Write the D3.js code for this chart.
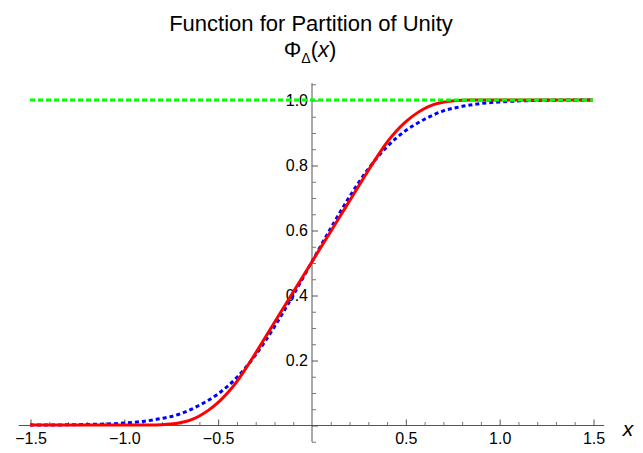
<!DOCTYPE html>
<html><head><meta charset="utf-8">
<script src="https://cdn.jsdelivr.net/npm/d3@7"></script>
<style>body{margin:0;background:#fff}svg{display:block}</style>
</head><body><svg id="c" width="643" height="453"></svg>
<script>
// ---- data ----
const redX = [-1.5, -0.9, -0.85, -0.8, -0.75, -0.7, -0.65, -0.6, -0.55, -0.5, -0.45, -0.4, -0.35, -0.3, -0.25, -0.2, -0.15, -0.1, -0.05, 0,
  0.05, 0.1, 0.15, 0.2, 0.25, 0.3, 0.35, 0.4, 0.45, 0.5, 0.55, 0.6, 0.65, 0.7, 0.75, 0.8, 0.85, 0.9, 1.5];
const redY = [0, 0, 0, 0.001, 0.003, 0.007, 0.014, 0.027, 0.045, 0.068, 0.097, 0.132, 0.174, 0.219, 0.266, 0.313, 0.36, 0.407, 0.453, 0.5,
  0.547, 0.593, 0.64, 0.687, 0.734, 0.781, 0.826, 0.868, 0.903, 0.932, 0.955, 0.973, 0.986, 0.993, 0.997, 0.999, 1, 1, 1];
const blueX = [-1.5, -1.4, -1.3, -1.2, -1.1, -1.0, -0.9, -0.8, -0.7, -0.6, -0.5, -0.4, -0.3, -0.2, -0.1, 0,
  0.1, 0.2, 0.3, 0.4, 0.5, 0.6, 0.7, 0.8, 0.9, 1.0, 1.1, 1.2, 1.3, 1.4, 1.5];
const blueY = [0, 0.0002, 0.0005, 0.0015, 0.003, 0.006, 0.011, 0.02, 0.034, 0.06, 0.095, 0.145, 0.214, 0.3, 0.397, 0.5,
  0.603, 0.7, 0.786, 0.855, 0.905, 0.94, 0.966, 0.98, 0.989, 0.994, 0.997, 0.9985, 0.9995, 0.9998, 1];
const unityX = [-1.5, 1.5];
const unityY = [1, 1];
const xMajorTicks = [-1.5, -1.0, -0.5, 0.5, 1.0, 1.5];
const yMajorTicks = [0.2, 0.4, 0.6, 0.8, 1.0];
const titleLine1 = "Function for Partition of Unity";

// ---- layout ----
const svg = d3.select("#c");
const x = d3.scaleLinear().domain([-1.5, 1.5]).range([30, 593]);
const y = d3.scaleLinear().domain([0, 1]).range([425, 100]);
const font = "'Liberation Sans', Arial, Helvetica, sans-serif";
const axisColor = "#555";
const tickFont = 16;

const xMinor = d3.range(-15, 16).map(i => i / 10).filter(v => Math.abs(v * 2 - Math.round(v * 2)) > 1e-6);
const yMinor = d3.range(-1, 22).map(i => i / 20).filter(v => Math.abs(v * 5 - Math.round(v * 5)) > 1e-6);

// axis lines
svg.append("line").attr("x1", x(-1.56)).attr("x2", x(1.56)).attr("y1", y(0) + 0.5).attr("y2", y(0) + 0.5)
  .attr("stroke", axisColor).attr("stroke-width", 1);
svg.append("line").attr("x1", x(0) + 0.5).attr("x2", x(0) + 0.5).attr("y1", y(-0.052)).attr("y2", y(1.052))
  .attr("stroke", axisColor).attr("stroke-width", 1);

// x axis ticks (drawn upward), labels below
const gx = svg.append("g").attr("transform", `translate(0.5,${y(0) + 0.5})`)
  .call(d3.axisBottom(x).tickValues(xMajorTicks).tickSizeInner(-6).tickSizeOuter(0).tickPadding(7)
    .tickFormat(d3.format(".1f")));
gx.select(".domain").remove();
gx.selectAll("line").attr("stroke", axisColor);
gx.selectAll("text").attr("font-family", font).attr("font-size", tickFont).attr("fill", "#000");
const gxm = svg.append("g").attr("transform", `translate(0.5,${y(0) + 0.5})`)
  .call(d3.axisBottom(x).tickValues(xMinor).tickSizeInner(-3.5).tickSizeOuter(0).tickFormat(""));
gxm.select(".domain").remove();
gxm.selectAll("line").attr("stroke", "#777");

// y axis ticks (drawn rightward), labels left
const gy = svg.append("g").attr("transform", `translate(${x(0) + 0.5},0.5)`)
  .call(d3.axisLeft(y).tickValues([0].concat(yMajorTicks)).tickSizeInner(-6).tickSizeOuter(0).tickPadding(4)
    .tickFormat(d => d === 0 ? "" : d3.format(".1f")(d)));
gy.select(".domain").remove();
gy.selectAll("line").attr("stroke", axisColor);
gy.selectAll("text").attr("font-family", font).attr("font-size", tickFont).attr("fill", "#000");
const gym = svg.append("g").attr("transform", `translate(${x(0) + 0.5},0.5)`)
  .call(d3.axisLeft(y).tickValues(yMinor).tickSizeInner(-4).tickSizeOuter(0).tickFormat(""));
gym.select(".domain").remove();
gym.selectAll("line").attr("stroke", "#777");

// curves
const line = d3.line().x(d => x(d[0])).y(d => y(d[1])).curve(d3.curveMonotoneX);
const blueData = blueX.map((v, i) => [v, blueY[i]]);
const redData = redX.map((v, i) => [v, redY[i]]);
const unityData = unityX.map((v, i) => [v, unityY[i]]);

svg.append("path").datum(blueData).attr("d", line).attr("fill", "none")
  .attr("stroke", "#0000ff").attr("stroke-width", 3).attr("stroke-dasharray", "4,3");
svg.append("path").datum(redData).attr("d", line).attr("fill", "none")
  .attr("stroke", "#ff0000").attr("stroke-width", 3);
svg.append("path").datum(unityData).attr("d", line).attr("fill", "none")
  .attr("stroke", "#00ff00").attr("stroke-width", 3).attr("stroke-dasharray", "5,3");

// titles
svg.append("text").attr("x", 311).attr("y", 30.5).attr("text-anchor", "middle")
  .attr("font-family", font).attr("font-size", 22).text(titleLine1);
const t2 = svg.append("text").attr("x", 310).attr("y", 57).attr("text-anchor", "middle")
  .attr("font-family", font).attr("font-size", 22);
t2.append("tspan").text("Φ");
t2.append("tspan").attr("font-size", 14).attr("dy", 6).text("Δ");
t2.append("tspan").attr("dy", -6).text("(");
t2.append("tspan").attr("font-style", "italic").text("x");
t2.append("tspan").text(")");

// axis label
svg.append("text").attr("x", 628).attr("y", 436).attr("text-anchor", "middle")
  .attr("font-family", font).attr("font-size", 21).attr("font-style", "italic").text("x");
</script>
</body></html>
